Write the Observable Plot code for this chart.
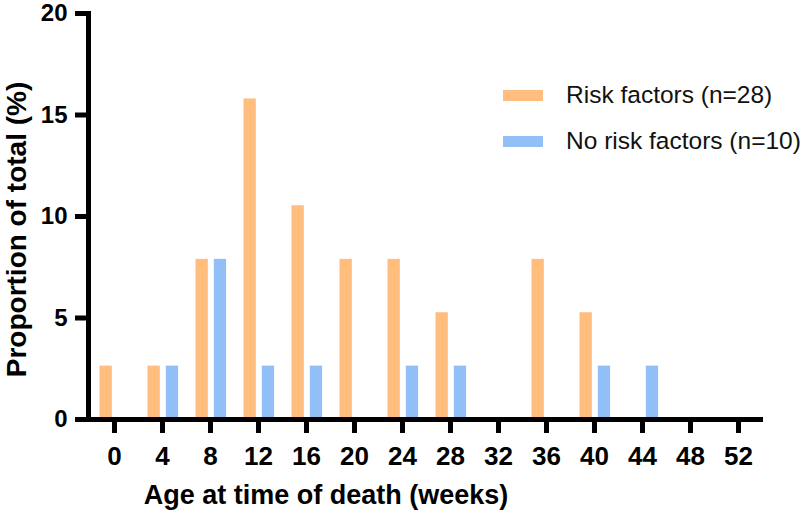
<!DOCTYPE html>
<html>
<head>
<meta charset="utf-8">
<script src="https://cdn.jsdelivr.net/npm/d3@7"></script>
<script src="https://cdn.jsdelivr.net/npm/@observablehq/plot@0.6"></script>
<style>
  html, body { margin: 0; padding: 0; background: #fff; }
  #wrap { position: relative; width: 800px; height: 517px; font-family: "Liberation Sans", Arial, sans-serif; }
  .leg { position: absolute; display: flex; align-items: center; font-size: 24.5px; color: #111; white-space: nowrap; }
  .sw { width: 40px; height: 11px; margin-right: 23px; }
</style>
</head>
<body>
<div id="wrap"></div>
<script>
// Data (proportion of total, %)
const ages = [0, 4, 8, 12, 16, 20, 24, 28, 32, 36, 40, 44, 48, 52];
const riskFactors = [2.63, 2.63, 7.89, 15.79, 10.53, 7.89, 7.89, 5.26, 0, 7.89, 5.26, 0, 0, 0];
const noRiskFactors = [0, 2.63, 7.89, 2.63, 2.63, 0, 2.63, 2.63, 0, 0, 2.63, 2.63, 0, 0];
const yTicks = [0, 5, 10, 15, 20];
const seriesNames = ["Risk factors (n=28)", "No risk factors (n=10)"];
const colors = ["#FFBE7E", "#92BFF6"];
const xTitle = "Age at time of death (weeks)";
const yTitle = "Proportion of total (%)";

const riskRows = ages.map((a, i) => ({age: a, value: riskFactors[i]})).filter(d => d.value > 0);
const noRiskRows = ages.map((a, i) => ({age: a, value: noRiskFactors[i]})).filter(d => d.value > 0);

const chart = Plot.plot({
  width: 800,
  height: 517,
  marginLeft: 88,
  marginRight: 37,
  marginTop: 13,
  marginBottom: 98,
  style: {fontFamily: "'Liberation Sans', Arial, sans-serif", color: "#000", background: "white", overflow: "visible"},
  x: {type: "band", domain: ages, padding: 0, label: null},
  y: {domain: [0, 20], label: null},
  marks: [
    Plot.barY(riskRows, {x: "age", y: "value", fill: colors[0], insetLeft: 9.5, insetRight: 26.2}),
    Plot.barY(noRiskRows, {x: "age", y: "value", fill: colors[1], insetLeft: 27.8, insetRight: 7.9}),
    Plot.axisY({ticks: yTicks, tickSize: 13, tickPadding: 8, strokeWidth: 5, fontSize: 24, fontWeight: "bold", label: null}),
    Plot.axisX({tickSize: 14, tickPadding: 13, strokeWidth: 5, fontSize: 26, fontWeight: "bold", label: null}),
    Plot.ruleY([0], {strokeWidth: 5}),
    Plot.frame({anchor: "left", strokeWidth: 5, strokeLinecap: "square"}),
    Plot.text([xTitle], {frameAnchor: "bottom", dx: -100, dy: 84, fontSize: 27, fontWeight: "bold", fill: "#000"}),
    Plot.text([yTitle], {frameAnchor: "left", textAnchor: "middle", rotate: -90, dx: -71, dy: 13, fontSize: 28, fontWeight: "bold", fill: "#000"})
  ]
});

const wrap = document.getElementById("wrap");
wrap.appendChild(chart);

const legendTops = [83, 129];
seriesNames.forEach((name, i) => {
  const item = document.createElement("div");
  item.className = "leg";
  item.style.left = "503px";
  item.style.top = legendTops[i] + "px";
  item.style.height = "24px";
  const sw = document.createElement("div");
  sw.className = "sw";
  sw.style.background = colors[i];
  const tx = document.createElement("span");
  tx.textContent = name;
  item.appendChild(sw);
  item.appendChild(tx);
  wrap.appendChild(item);
});
</script>
</body>
</html>
